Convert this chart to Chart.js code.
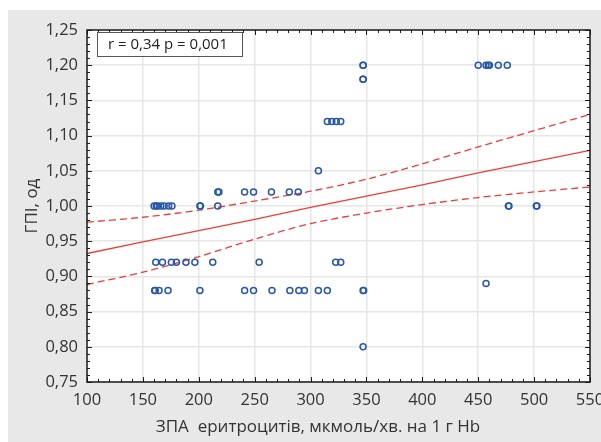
<!DOCTYPE html>
<html lang="uk">
<head>
    <meta charset="UTF-8">
    <title>ГПІ vs ЗПА еритроцитів</title>
    <script src="https://cdn.jsdelivr.net/npm/chart.js"></script>
    <style>
        html, body {
            margin: 0;
            padding: 0;
            background: #fff;
        }
        .panel {
            position: absolute;
            left: 8px;
            top: 10px;
            width: 593px;
            height: 432px;
            background: #e8e8e8; /* grey frame around the plot */
        }
        .wrap {
            position: absolute;
            left: 0;
            top: 0;
            width: 601px;
            height: 442px;
        }
    </style>
</head>
<body>
    <div class="panel"></div>
    <div class="wrap"><canvas id="chart"></canvas></div>

    <script>
        const zpaValues = [
            347, 347, 450, 457, 459, 460, 468, 476,             // 1.20
            347, 347,                                           // 1.18
            315, 319, 323, 327,                                 // 1.12
            307,                                                // 1.05
            217, 218, 241, 249, 265, 281, 289,                  // 1.02
            160, 162, 163, 166, 169, 173, 176, 201, 201.5, 217, 477, 477.5, 502, 502.5, // 1.00
            161.5, 167.5, 175.5, 180, 188.5, 196.5, 212.5, 254, 322.5, 327,            // 0.92
            457,                                                // 0.89
            160.5, 161, 164.5, 172.5, 201, 241, 249, 265.5, 281.5, 289.5, 294.5, 307, 315, 347, 347.5, // 0.88
            347                                                 // 0.80
        ];
        const gpiValues = [
            1.20, 1.20, 1.20, 1.20, 1.20, 1.20, 1.20, 1.20,
            1.18, 1.18,
            1.12, 1.12, 1.12, 1.12,
            1.05,
            1.02, 1.02, 1.02, 1.02, 1.02, 1.02, 1.02,
            1.00, 1.00, 1.00, 1.00, 1.00, 1.00, 1.00, 1.00, 1.00, 1.00, 1.00, 1.00, 1.00, 1.00,
            0.92, 0.92, 0.92, 0.92, 0.92, 0.92, 0.92, 0.92, 0.92, 0.92,
            0.89,
            0.88, 0.88, 0.88, 0.88, 0.88, 0.88, 0.88, 0.88, 0.88, 0.88, 0.88, 0.88, 0.88, 0.88, 0.88,
            0.80
        ];

        // regression line and 95% band
        const fitX     = [100, 150, 200, 250, 300, 350, 400, 450, 500, 550];
        const fitY     = [0.9325, 0.949, 0.965, 0.981, 0.998, 1.014, 1.030, 1.047, 1.063, 1.079];
        const upperY   = [0.977, 0.984, 0.994, 1.007, 1.021, 1.038, 1.060, 1.084, 1.107, 1.130];
        const lowerY   = [0.8885, 0.906, 0.928, 0.953, 0.975, 0.990, 1.002, 1.012, 1.020, 1.027];

        const xTitle = 'ЗПА  еритроцитів, мкмоль/хв. на 1 г Hb';
        const yTitle = 'ГПІ, од';
        const statText = 'r = 0,34 p = 0,001';

        const FONT = '"Open Sans", sans-serif';
        const RED = '#ee3d37';

        const points = zpaValues.map((x, i) => ({ x: x, y: gpiValues[i] }));
        const toLine = arr => fitX.map((x, i) => ({ x: x, y: arr[i] }));

        // white plot area, inward ticks on all sides, frame, stat box and axis titles
        const framePlugin = {
            id: 'frame',
            beforeDraw(chart) {
                const { ctx, chartArea: a } = chart;
                ctx.save();
                ctx.fillStyle = '#fff';
                ctx.fillRect(a.left, a.top, a.right - a.left, a.bottom - a.top);
                ctx.restore();
            },
            afterDraw(chart) {
                const { ctx, chartArea: a } = chart;
                const xs = chart.scales.x, ys = chart.scales.y;
                ctx.save();
                ctx.strokeStyle = '#1a1a1a';
                ctx.lineWidth = 1;
                ctx.beginPath();
                for (let v = 100; v <= 550; v += 10) {
                    const px = Math.round(xs.getPixelForValue(v)) + 0.5;
                    const len = v % 50 === 0 ? 5 : 3;
                    ctx.moveTo(px, a.bottom); ctx.lineTo(px, a.bottom - len);
                    ctx.moveTo(px, a.top); ctx.lineTo(px, a.top + len);
                }
                for (let i = 75; i <= 125; i++) {
                    const py = Math.round(ys.getPixelForValue(i / 100)) + 0.5;
                    const len = i % 5 === 0 ? 5 : 3;
                    ctx.moveTo(a.left, py); ctx.lineTo(a.left + len, py);
                    ctx.moveTo(a.right, py); ctx.lineTo(a.right - len, py);
                }
                ctx.stroke();

                ctx.lineWidth = 1.5;
                ctx.strokeRect(a.left, a.top, a.right - a.left, a.bottom - a.top);

                // stat box
                ctx.fillStyle = '#fff';
                ctx.fillRect(a.left + 10.5, a.top + 2.5, 145, 24);
                ctx.strokeStyle = '#555';
                ctx.lineWidth = 1;
                ctx.strokeRect(a.left + 10.5, a.top + 2.5, 145, 24);
                ctx.fillStyle = '#222';
                ctx.font = '15px ' + FONT;
                ctx.textBaseline = 'middle';
                ctx.textAlign = 'left';
                ctx.fillText(statText, a.left + 21, a.top + 15);

                // axis titles
                ctx.fillStyle = '#333';
                ctx.font = '17px ' + FONT;
                ctx.textAlign = 'center';
                ctx.fillText(xTitle, 318, 427);
                ctx.translate(32, 206);
                ctx.rotate(-Math.PI / 2);
                ctx.fillText(yTitle, 0, 0);
                ctx.restore();
            }
        };

        new Chart(document.getElementById('chart'), {
            type: 'scatter',
            data: {
                datasets: [
                    {
                        data: points,
                        pointRadius: 3,
                        pointBorderWidth: 1.5,
                        pointBorderColor: '#2857aa',
                        pointBackgroundColor: 'rgba(0,0,0,0)'
                    },
                    {
                        data: toLine(fitY),
                        showLine: true,
                        borderColor: RED,
                        borderWidth: 1.3,
                        pointRadius: 0
                    },
                    {
                        data: toLine(upperY),
                        showLine: true,
                        borderColor: RED,
                        borderWidth: 1.3,
                        borderDash: [7, 4],
                        tension: 0.3,
                        pointRadius: 0
                    },
                    {
                        data: toLine(lowerY),
                        showLine: true,
                        borderColor: RED,
                        borderWidth: 1.3,
                        borderDash: [7, 4],
                        tension: 0.3,
                        pointRadius: 0
                    }
                ]
            },
            options: {
                responsive: true,
                maintainAspectRatio: false,
                animation: false,
                layout: { padding: { left: 8, top: 30, right: 11, bottom: 0 } },
                plugins: {
                    legend: { display: false },
                    tooltip: { enabled: false }
                },
                scales: {
                    x: {
                        type: 'linear',
                        min: 100,
                        max: 550,
                        ticks: {
                            stepSize: 50,
                            color: '#333',
                            font: { family: FONT, size: 16.5 },
                            padding: 8,
                            maxRotation: 0
                        },
                        grid: { color: '#e6e6e6', lineWidth: 1.5, drawTicks: false },
                        border: { display: false },
                        afterFit(s) {
                            s.height = 60;
                            s.paddingLeft = 0;
                            s.paddingRight = 0;
                        }
                    },
                    y: {
                        min: 0.75,
                        max: 1.25,
                        ticks: {
                            stepSize: 0.05,
                            color: '#333',
                            font: { family: FONT, size: 16.5 },
                            padding: 9,
                            callback: v => v.toFixed(2).replace('.', ',')
                        },
                        grid: { color: '#e6e6e6', lineWidth: 1.5, drawTicks: false },
                        border: { display: false },
                        afterFit(s) {
                            s.width = 79;
                        }
                    }
                }
            },
            plugins: [framePlugin]
        });
    </script>
</body>
</html>
